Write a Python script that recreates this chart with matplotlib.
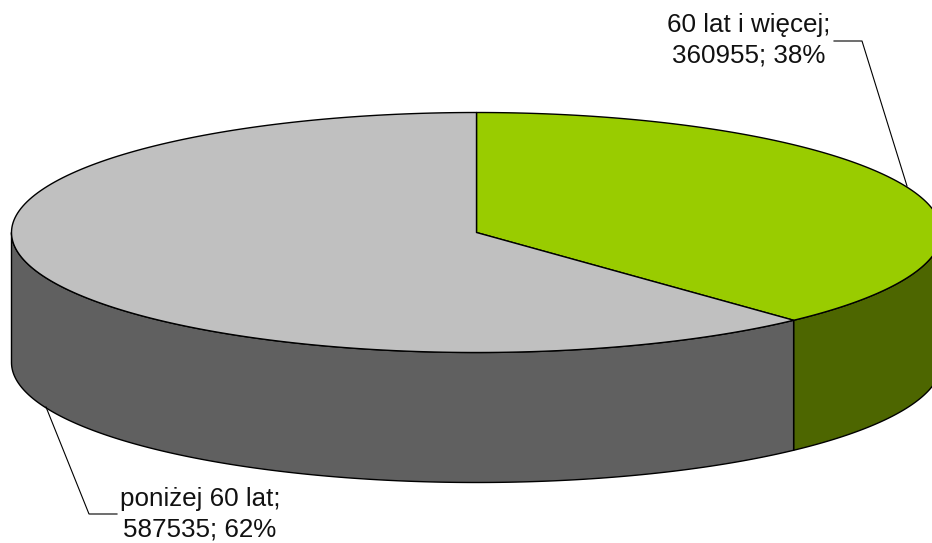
import numpy as np
import matplotlib
matplotlib.use('Agg')
import matplotlib.pyplot as plt

labels = ['60 lat i więcej;\n360955; 38%', 'poniżej 60 lat;\n587535; 62%']
values = [360955, 587535]
top_colors = ['#99cc00', '#c0c0c0']
side_colors = ['#4d6600', '#606060']

# geometry of the flat pie, in pixels of the picture
cx, cy = 476.5, 232.5
rx, ry = 465, 120
depth = 130


def rim(a0, a1, dy=0):
    # angles clockwise from 12 o'clock
    t = np.radians(np.linspace(a0, a1, 200))
    return cx + rx * np.sin(t), cy - ry * np.cos(t) + dy


fig = plt.figure(figsize=(9.32, 5.43), dpi=100)
ax = fig.add_axes([0, 0, 1, 1])
ax.set_xlim(0, 932)
ax.set_ylim(543, 0)
ax.axis('off')

split = 360 * values[0] / sum(values)

# side walls
for a0, a1, col in [(90, split, side_colors[0]), (split, 270, side_colors[1])]:
    x1, y1 = rim(a0, a1)
    x2, y2 = rim(a1, a0, depth)
    ax.fill(np.r_[x1, x2], np.r_[y1, y2], fc=col, ec='black', lw=1.0, joinstyle='round')

# top slices
for a0, a1, col in [(0, split, top_colors[0]), (split, 360, top_colors[1])]:
    x, y = rim(a0, a1)
    ax.fill(np.r_[cx, x], np.r_[cy, y], fc=col, ec='black', lw=1.0, joinstyle='round')

# leader lines
ax.plot([834, 862, 907], [41, 41, 186], color='black', lw=0.8)
ax.plot([117, 89, 46], [514, 514, 407], color='black', lw=0.8)

font = dict(family=['Liberation Sans', 'DejaVu Sans'], fontsize=18.7, ha='center', va='center',
            linespacing=1.32, color='#111111')
ax.text(749, 40.5, labels[0], **font)
ax.text(200, 514, labels[1], **font)

fig.savefig('out.png', dpi=100)
